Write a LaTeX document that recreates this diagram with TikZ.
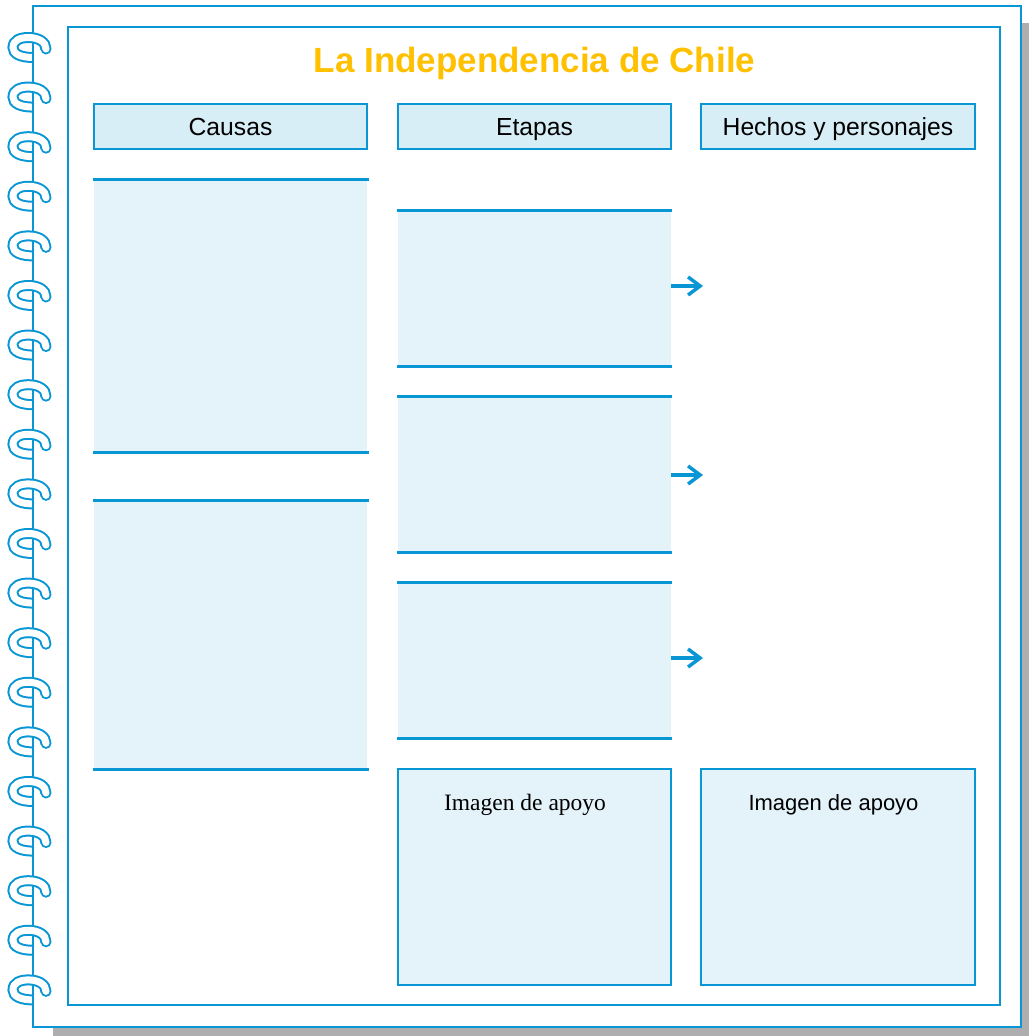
\documentclass[tikz,border=0pt]{standalone}
\usepackage{fontspec}
\setmainfont{Liberation Sans}
\newfontfamily\serifimg{Liberation Serif}
\usetikzlibrary{arrows.meta}
\definecolor{lineblue}{RGB}{8,150,212}
\definecolor{boxfill}{RGB}{228,243,250}
\definecolor{headfill}{RGB}{216,238,247}
\definecolor{shadowgray}{RGB}{174,174,176}
\definecolor{titlegold}{RGB}{255,192,0}
\tikzset{
  headbox/.style={draw=lineblue, line width=2pt, fill=headfill, inner sep=0pt,
    minimum width=273pt, minimum height=45pt,
    font=\fontsize{24.7}{28}\selectfont, text height=21pt, text depth=4pt},
  fillbox/.style={draw=none, fill=boxfill, inner sep=0pt, minimum width=273pt},
  imgbox/.style={draw=lineblue, line width=2pt, fill=boxfill, inner sep=0pt,
    minimum width=273pt, minimum height=216pt},
  edgeline/.style={draw=lineblue, line width=3pt},
  arrowline/.style={draw=lineblue, line width=3.5pt,
    -{Straight Barb[length=12pt,width=18pt,line width=3.5pt]}},
  spiralring/.pic={
    \draw[lineblue, line width=11pt] (1,9.5) .. controls (-12,9.5) and (-19.5,6) .. (-19.5,-0.5)
      .. controls (-19.5,-8) and (-12,-10.5) .. (-4,-10.5) .. controls (6,-10.5) and (13.5,-6) .. (13.5,1);
    \fill[lineblue] (13.5,1) circle (5.5);
    \draw[white, line width=7pt] (1,9.5) .. controls (-12,9.5) and (-19.5,6) .. (-19.5,-0.5)
      .. controls (-19.5,-8) and (-12,-10.5) .. (-4,-10.5) .. controls (6,-10.5) and (13.5,-6) .. (13.5,1);
    \fill[white] (13.5,1) circle (3.5);
    \draw[lineblue, line width=2pt] (0,3.5) -- (0,15.5);
  }
}
\begin{document}
\begin{tikzpicture}[x=1pt,y=-1pt]
\useasboundingbox (0,0) rectangle (1029,1036);
% shadow and pages
\fill[shadowgray] (53,23) rectangle (1029,1036);
\draw[lineblue, line width=2pt, fill=white] (32.5,6) rectangle (1021,1027);
\draw[lineblue, line width=2pt] (68,27) rectangle (1000,1005);
% spiral rings
\foreach \k in {0,...,19} {
  \pic at (32.5,{48+49.6*\k}) {spiralring};
}
% title
\node[anchor=base, text=titlegold, font=\fontsize{35}{40}\selectfont\bfseries, inner sep=0pt]
  (title) at (534.5,72) {La Independencia de Chile};
% headers
\node[headbox] (hcau) at (230.5,126.5) {Causas};
\node[headbox] (heta) at (534.5,126.5) {Etapas};
\node[headbox, minimum width=274pt] (hhec) at (838,126.5) {Hechos y personajes};
% causas boxes
\node[fillbox, minimum height=272pt] (c1) at (230.5,316) {};
\node[fillbox, minimum height=268pt] (c2) at (230.5,635) {};
\foreach \n in {c1,c2} {
  \draw[edgeline] ([xshift=-1pt]\n.north west) -- ([xshift=2pt]\n.north east);
  \draw[edgeline] ([xshift=-1pt]\n.south west) -- ([xshift=2pt]\n.south east);
}
% etapas boxes
\node[fillbox, minimum height=155pt] (e1) at (534.5,288.5) {};
\node[fillbox, minimum height=155pt] (e2) at (534.5,474.5) {};
\node[fillbox, minimum height=155pt] (e3) at (534.5,660.5) {};
\foreach \n in {e1,e2,e3} {
  \draw[edgeline] ([xshift=-1pt]\n.north west) -- ([xshift=1pt]\n.north east);
  \draw[edgeline] ([xshift=-1pt]\n.south west) -- ([xshift=1pt]\n.south east);
}
% arrows
\coordinate (a1) at (703,286);
\coordinate (a2) at (703,475);
\coordinate (a3) at (703,658);
\draw[arrowline] (e1.east |- a1) -- (a1);
\draw[arrowline] (e2.east |- a2) -- (a2);
\draw[arrowline] (e3.east |- a3) -- (a3);
% image boxes
\node[imgbox] (i1) at (534.5,877) {};
\node[imgbox, minimum width=274pt] (i2) at (838,877) {};
\node[anchor=base, inner sep=0pt, font=\serifimg\fontsize{23.5}{27}\selectfont] (t1) at (525,810) {Imagen de apoyo};
\node[anchor=base, inner sep=0pt, font=\fontsize{22}{26}\selectfont] (t2) at (833.5,810) {Imagen de apoyo};
\end{tikzpicture}
\end{document}
